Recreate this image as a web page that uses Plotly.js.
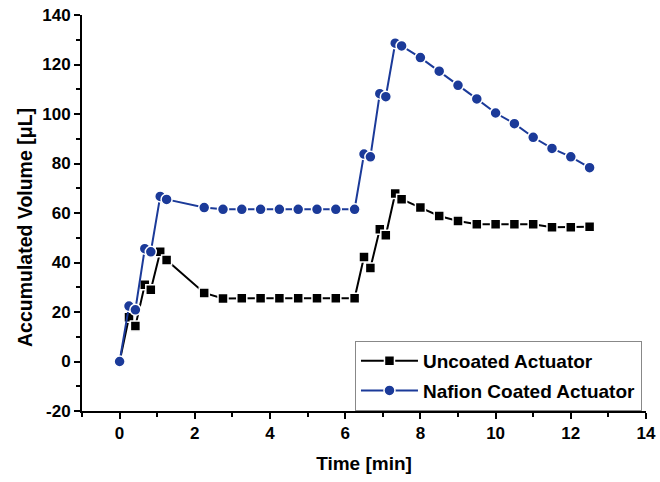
<!DOCTYPE html>
<html>
<head>
<meta charset="utf-8">
<script src="https://cdn.plot.ly/plotly-3.0.1.min.js"></script>
<style>html,body{margin:0;padding:0;background:#fff;}#chart{width:660px;height:482px;}</style>
</head>
<body>
<div id="chart"></div>
<script>
const timeMin = [0, 0.25, 0.42, 0.67, 0.83, 1.08, 1.25, 2.25, 2.75, 3.25, 3.75, 4.25, 4.75, 5.25, 5.75, 6.25, 6.5, 6.67, 6.92, 7.08, 7.33, 7.5, 8, 8.5, 9, 9.5, 10, 10.5, 11, 11.5, 12, 12.5];
const uncoatedVolume = [0, 17.9, 14.3, 31.0, 29.0, 44.3, 41.0, 27.7, 25.5, 25.6, 25.6, 25.6, 25.6, 25.6, 25.6, 25.6, 42.2, 37.8, 53.4, 51.0, 67.9, 65.6, 62.2, 58.8, 56.8, 55.5, 55.5, 55.5, 55.5, 54.2, 54.2, 54.4];
const nafionVolume = [0, 22.4, 20.9, 45.6, 44.3, 66.7, 65.5, 62.2, 61.5, 61.5, 61.5, 61.5, 61.5, 61.5, 61.5, 61.5, 83.8, 82.7, 108.2, 107.0, 128.6, 127.5, 122.8, 117.3, 111.6, 106.1, 100.4, 96.1, 90.6, 86.1, 82.7, 78.3];
const seriesNames = ["Uncoated Actuator", "Nafion Coated Actuator"];
const xTickVals = [0, 2, 4, 6, 8, 10, 12, 14];
const xTickText = ["0", "2", "4", "6", "8", "10", "12", "14"];
const yTickVals = [-20, 0, 20, 40, 60, 80, 100, 120, 140];
const yTickText = ["-20", "0", "20", "40", "60", "80", "100", "120", "140"];
const xTitle = "Time [min]";
const yTitle = "Accumulated Volume [μL]";

const FONT = "Liberation Sans, Arial, Helvetica, sans-serif";
const BLUE = "#1b3a99";
const bold = s => "<b>" + s + "</b>";

const traces = [
  {
    x: timeMin, y: uncoatedVolume, name: bold(seriesNames[0]), type: "scatter", mode: "lines+markers",
    legendgroup: "a",
    line: {color: "#000000", width: 2},
    marker: {symbol: "square", size: 10, color: "#000000", line: {color: "#ffffff", width: 1.5}}
  },
  {
    x: timeMin, y: nafionVolume, name: bold(seriesNames[1]), type: "scatter", mode: "lines+markers",
    legendgroup: "b",
    line: {color: BLUE, width: 2},
    marker: {symbol: "circle", size: 11, color: BLUE, line: {color: "#ffffff", width: 1.5}}
  }
];

const axisCommon = {
  showgrid: false, zeroline: false, showline: true, linecolor: "#000", linewidth: 2,
  mirror: false, ticks: "outside", ticklen: 6, tickwidth: 2, tickcolor: "#000",
  tickmode: "array",
  tickfont: {family: FONT, size: 17, color: "#000"}
};

const layout = {
  width: 660, height: 482,
  margin: {l: 82, r: 14, t: 15, b: 71},
  paper_bgcolor: "#ffffff", plot_bgcolor: "#ffffff",
  showlegend: true,
  xaxis: Object.assign({}, axisCommon, {
    range: [-1, 14], tickvals: xTickVals, ticktext: xTickText.map(bold),
    minor: {dtick: 1, tick0: 0, ticks: "outside", ticklen: 4, tickwidth: 2, tickcolor: "#000"},
    title: {text: bold(xTitle), font: {family: FONT, size: 19, color: "#000"}, standoff: 14}
  }),
  yaxis: Object.assign({}, axisCommon, {
    range: [-20, 140], tickvals: yTickVals, ticktext: yTickText.map(bold),
    minor: {dtick: 10, tick0: 0, ticks: "outside", ticklen: 4, tickwidth: 2, tickcolor: "#000"}
  }),
  annotations: [{
    text: bold(yTitle), textangle: -90, showarrow: false,
    xref: "paper", yref: "paper", x: 0, y: 0.462, xanchor: "center", yanchor: "middle",
    xshift: -57,
    font: {family: FONT, size: 19.5, color: "#000"}
  }],
  legend: {
    x: 0.484, y: 0.177, xanchor: "left", yanchor: "top",
    bgcolor: "#ffffff", bordercolor: "#888888", borderwidth: 1,
    font: {family: FONT, size: 19, color: "#000"},
    itemwidth: 57, traceorder: "grouped", tracegroupgap: 2
  }
};

Plotly.newPlot("chart", traces, layout, {displayModeBar: false, staticPlot: true});
</script>
</body>
</html>
